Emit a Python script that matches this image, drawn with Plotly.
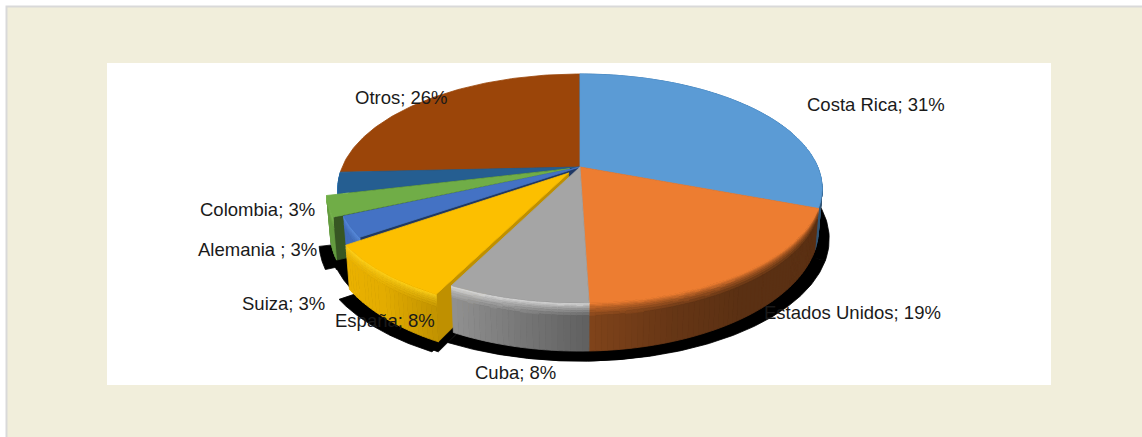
import numpy as np
import plotly.graph_objects as go

# Export shares by destination, in the order they run clockwise from twelve o'clock
names = ["Costa Rica", "Estados Unidos", "Cuba", "España", "Suiza", "Alemania ", "Colombia", "Otros"]
values = [31, 19, 8, 8, 3, 3, 3, 26]
top_colors = ["#5b9bd5", "#ed7d31", "#a5a5a5", "#fcbf00", "#4472c4", "#70ad47", "#255e91", "#9b4509"]
# Outward pull of each slice, as a fraction of the radius
explode = [0, 0, 0, 0.072, 0.005, 0.046, 0, 0]
# Side wall brightness stops along each slice's arc
wall_shade = [(0.55, 0.55), (0.38, 0.38, 0.38, 0.43, 0.54), (0.58, 0.88), (0.77, 0.9, 0.93),
              (0.95, 0.95), (0.9, 0.9), (1.1, 1.1), (0.6, 0.6)]
rim_colors = ["#2f6fa6", "#ed7d31", "#dcdcdc", "#ffd21a", "#5b8ee0", "#86c45a", "#2a78bd", "#9b4509"]
face_colors = ["#3a6f9f", "#8a4a1c", "#707070", "#bf9000", "#203864", "#375623", "#1a4368", "#6d3208"]
label_x = [876, 852, 515, 385, 283, 257, 257, 401]
label_y = [104, 312, 372, 320, 303, 249, 209, 97]

# Perspective of the disc: apex position, radii, foreshortening, thickness
APEX_X, APEX_Y = 580, 167
RX, RY, PERSP, THICK, TAPER = 237.8, 110.5, 0.188, 39, 0.015


def project(px, py, z=0.0):
    """Map a point on the unit disc (z=0 top face, z=1 bottom face) to chart units."""
    px, py = np.asarray(px, float), np.asarray(py, float)
    w = 1 + PERSP * py
    return APEX_X + RX * px / w * (1 - TAPER * z), APEX_Y - RY * py / w + THICK * z / w


def hex_rgb(c):
    return np.array([int(c[i:i + 2], 16) for i in (1, 3, 5)], float)


def to_hex(rgb):
    rgb = np.clip(np.round(rgb), 0, 255).astype(int)
    return "#%02x%02x%02x" % tuple(rgb)


fig = go.Figure()


def add_polys(polys, color):
    xs, ys = [], []
    for x, y in polys:
        xs += list(x) + [x[0], None]
        ys += list(y) + [y[0], None]
    fig.add_trace(go.Scatter(x=xs, y=ys, mode="lines", fill="toself", fillcolor=color,
                             line=dict(color=color, width=0.8), hoverinfo="skip", showlegend=False))


total = sum(values)
edges = np.cumsum([0] + values) / total * 2 * np.pi
slices = []
for i in range(len(values)):
    t0, t1 = edges[i], edges[i + 1]
    mid = (t0 + t1) / 2
    slices.append(dict(i=i, t0=t0, t1=t1, ox=explode[i] * np.sin(mid), oy=explode[i] * np.cos(mid)))


def arc(s, z=0.0, n=90):
    t = np.linspace(s["t0"], s["t1"], n)
    return project(np.sin(t) + s["ox"], np.cos(t) + s["oy"], z)


def draw_top(s):
    x, y = arc(s)
    ax, ay = project(s["ox"], s["oy"])
    add_polys([(np.r_[ax, x], np.r_[ay, y])], top_colors[s["i"]])


def draw_wall(s):
    i = s["i"]
    steps = max(3, int((s["t1"] - s["t0"]) / np.radians(1.2)))
    ts = np.linspace(s["t0"], s["t1"], steps + 1)
    bands = [0, .025, .05, .08, .11, .15, .2, .26, 1]
    rim = hex_rgb(rim_colors[i])
    base = hex_rgb(top_colors[i])
    stops = wall_shade[i]
    groups = {}
    for k in range(steps):
        f = (k + 0.5) / steps
        shade = np.interp(f, np.linspace(0, 1, len(stops)), stops)
        body = base * shade
        for b in range(len(bands) - 1):
            mix = min(1, b / (len(bands) - 2))
            col = to_hex(rim * (1 - mix) + body * mix)
            tq = np.array([ts[k], ts[k + 1]])
            px, py = np.sin(tq) + s["ox"], np.cos(tq) + s["oy"]
            xa, ya = project(px, py, bands[b])
            xb, yb = project(px, py, bands[b + 1])
            groups.setdefault(col, []).append((np.r_[xa, xb[::-1]], np.r_[ya, yb[::-1]]))
    for col, polys in groups.items():
        add_polys(polys, col)


def draw_radial_face(s):
    px = np.array([s["ox"], np.sin(s["t0"]) + s["ox"]])
    py = np.array([s["oy"], np.cos(s["t0"]) + s["oy"]])
    xa, ya = project(px, py, 0)
    xb, yb = project(px, py, 1)
    add_polys([(np.r_[xa, xb[::-1]], np.r_[ya, yb[::-1]])], face_colors[s["i"]])


# Cast shadow: the bottom outline of every slice dropped, once as is and once widened
for s in slices:
    x, y = arc(s, 1)
    ax, ay = project(s["ox"], s["oy"], 1)
    add_polys([(np.r_[ax, x], np.r_[ay, y] + 10)], "#000000")
    add_polys([(APEX_X + (np.r_[ax, x] - APEX_X) * 1.045, np.r_[ay, y] + 10)], "#000000")

by_name = {n: s for n, s in zip(names, slices)}
cr, us, cu, es, su, al, co, ot = (by_name[n] for n in names)

# Back of the pie first
draw_wall(co)
draw_top(ot)
draw_top(co)
draw_wall(cr)
draw_top(cr)

# Pulled-out slices behind the front ones
for s in (al, su):
    draw_radial_face(s)
    draw_wall(s)
    draw_top(s)
draw_radial_face(es)

for s in (us, cu):
    draw_wall(s)
    draw_top(s)

draw_wall(es)
draw_top(es)

for n, v, lx, ly in zip(names, values, label_x, label_y):
    fig.add_annotation(x=lx, y=ly, text=f"{n}; {v}%", showarrow=False,
                       font=dict(family="Liberation Sans", size=18.5, color="#1a1a1a"))

fig.update_layout(
    width=1142, height=437, margin=dict(l=0, r=0, t=0, b=0),
    paper_bgcolor="#ffffff", plot_bgcolor="rgba(0,0,0,0)", showlegend=False,
    xaxis=dict(range=[0, 1142], visible=False, fixedrange=True),
    yaxis=dict(range=[437, 0], visible=False, fixedrange=True),
    shapes=[
        dict(type="rect", layer="below", x0=6.5, y0=6.5, x1=1160, y1=450,
             fillcolor="#f1eedb", line=dict(color="#d9d9d9", width=2)),
        dict(type="rect", layer="below", x0=107, y0=63, x1=1051, y1=385,
             fillcolor="#ffffff", line=dict(width=0)),
    ],
)
fig.write_html("out.html", config=dict(displayModeBar=False))
